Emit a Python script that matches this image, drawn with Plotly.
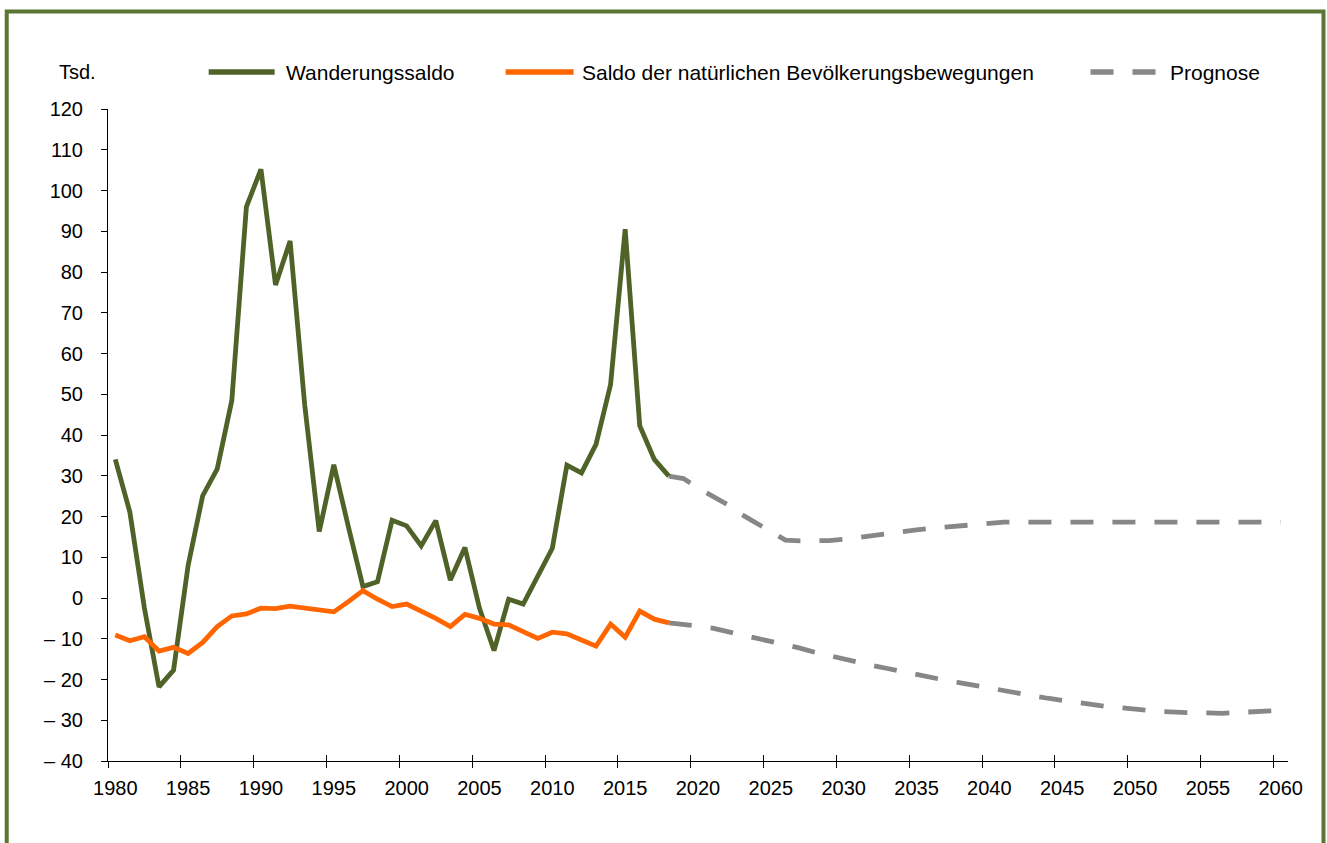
import plotly.graph_objects as go

# ---------------- data ----------------
years_hist = list(range(1980, 2019))
years_prog = list(range(2018, 2061))
all_years = list(range(1980, 2061))

wanderung = [34.0, 21.1, -2.5, -21.8, -17.7, 8.0, 25.1, 31.7, 48.5, 96.0,
             105.2, 76.8, 87.6, 47.5, 16.3, 32.7, 17.5, 2.8, 4.0, 19.1,
             17.7, 12.8, 19.0, 4.4, 12.4, -2.5, -12.9, -0.3, -1.5, 5.6,
             12.2, 32.6, 30.7, 37.7, 52.4, 90.5, 42.3, 34.0, 29.9]

natuerlich = [-9.1, -10.5, -9.5, -13.0, -12.1, -13.6, -10.9, -7.0, -4.4, -3.9,
              -2.5, -2.6, -2.0, -2.4, -2.8, -3.4, -0.9, 1.8, -0.3, -2.1,
              -1.5, -3.1, -5.0, -7.0, -4.0, -5.0, -6.4, -6.6, -8.4, -9.9,
              -8.4, -8.8, -10.3, -11.8, -6.4, -9.6, -3.2, -5.2, -6.1]

prog_wanderung = [29.9, 29.3, 27.0, 25.0, 23.0, 20.5, 18.3, 16.2, 14.2, 14.0,
                  14.0, 14.1, 14.4, 14.9, 15.3, 15.8, 16.3, 16.7, 17.1, 17.4,
                  17.8, 18.2, 18.5, 18.6, 18.6, 18.6, 18.6, 18.6, 18.6, 18.6,
                  18.6, 18.6, 18.6, 18.6, 18.6, 18.6, 18.6, 18.6, 18.6, 18.6,
                  18.6, 18.6, 18.6]

prog_natuerlich = [-6.1, -6.4, -6.9, -7.4, -8.2, -8.9, -9.8, -10.6, -11.4, -12.3,
                   -13.3, -14.2, -15.1, -15.9, -16.6, -17.3, -18.1, -18.8, -19.5, -20.2,
                   -20.8, -21.5, -22.2, -22.9, -23.5, -24.0, -24.6, -25.2, -25.7, -26.1,
                   -26.6, -27.0, -27.3, -27.6, -27.9, -28.1, -28.2, -28.2, -28.3, -28.1,
                   -27.9, -27.8, -27.6]

y_tickvals = list(range(-40, 121, 10))
y_ticktext = [("\u2013 " + str(-v)) if v < 0 else str(v) for v in y_tickvals]

series_names = ["Wanderungssaldo", "Saldo der natürlichen Bevölkerungsbewegungen", "Prognose"]

# ---------------- style ----------------
GREEN = "#4F6228"
ORANGE = "#FF6600"
GRAY = "#878787"
FRAME = "#5B7532"
FONT = "Liberation Sans, Arial, sans-serif"
DASH = "23px,19px"
LW = 4.8

fig = go.Figure()

fig.add_trace(go.Scatter(x=years_prog, y=prog_wanderung, mode="lines",
                         line=dict(color=GRAY, width=LW, dash=DASH),
                         name=series_names[2], showlegend=False))
fig.add_trace(go.Scatter(x=years_prog, y=prog_natuerlich, mode="lines",
                         line=dict(color=GRAY, width=LW, dash=DASH),
                         name=series_names[2], showlegend=False))
fig.add_trace(go.Scatter(x=years_hist, y=wanderung, mode="lines",
                         line=dict(color=GREEN, width=LW),
                         name=series_names[0], showlegend=False))
fig.add_trace(go.Scatter(x=years_hist, y=natuerlich, mode="lines",
                         line=dict(color=ORANGE, width=LW),
                         name=series_names[1], showlegend=False))
# helper trace for the overlay axis (inside tick marks)
fig.add_trace(go.Scatter(x=all_years, y=[None] * len(all_years), xaxis="x2",
                         mode="lines", showlegend=False, hoverinfo="skip"))

# plot area geometry (pixels)
W, H = 1327, 843
L, R, T, B = 108.3, 1288.5, 109.0, 761.0
pw, ph = R - L, B - T

def px(x):
    return (x - L) / pw

def py(y):
    return (B - y) / ph

axis_common = dict(
    type="category",
    categoryorder="array",
    categoryarray=all_years,
    range=[-0.5, len(all_years) - 0.5],
    tickmode="linear",
    tick0=0,
    dtick=5,
    tickson="boundaries",
    showgrid=False,
    zeroline=False,
    tickangle=0,
)

fig.update_layout(
    width=W, height=H,
    margin=dict(l=L, r=W - R, t=T, b=H - B, pad=0),
    paper_bgcolor="white",
    plot_bgcolor="white",
    font=dict(family=FONT, size=20, color="black"),
    showlegend=False,
    xaxis=dict(
        **axis_common,
        showline=True, linecolor="black", linewidth=1,
        ticks="outside", ticklen=6, tickwidth=1, tickcolor="black",
        tickfont=dict(family=FONT, size=20, color="black"),
        ticklabelstandoff=9,
    ),
    xaxis2=dict(
        **axis_common,
        overlaying="x", anchor="y", side="bottom",
        showline=False, showticklabels=False,
        ticks="inside", ticklen=6, tickwidth=1, tickcolor="black",
    ),
    yaxis=dict(
        range=[-40, 120],
        tickmode="array", tickvals=y_tickvals, ticktext=y_ticktext,
        showgrid=False, zeroline=False,
        showline=True, linecolor="black", linewidth=1,
        ticks="outside", ticklen=6, tickwidth=1, tickcolor="black",
        tickfont=dict(family=FONT, size=20, color="black"),
        ticklabelstandoff=14,
    ),
)

# outer frame (open at the bottom of the page)
fig.add_shape(type="rect", xref="paper", yref="paper",
              x0=px(7), x1=px(1324), y0=py(900), y1=py(11.5),
              line=dict(color=FRAME, width=4), fillcolor="rgba(0,0,0,0)", layer="below")

# legend (drawn manually to match spacing)
ly = py(72)
fig.add_shape(type="line", xref="paper", yref="paper",
              x0=px(209), x1=px(275), y0=ly, y1=ly,
              line=dict(color=GREEN, width=5.5))
fig.add_shape(type="line", xref="paper", yref="paper",
              x0=px(506), x1=px(574), y0=ly, y1=ly,
              line=dict(color=ORANGE, width=5.5))
fig.add_shape(type="line", xref="paper", yref="paper",
              x0=px(1091), x1=px(1156), y0=ly, y1=ly,
              line=dict(color=GRAY, width=5.5, dash=DASH))

legend_font = dict(family=FONT, size=21, color="black")
for xpos, txt in [(284, series_names[0]), (580, series_names[1]), (1168, series_names[2])]:
    fig.add_annotation(xref="paper", yref="paper", x=px(xpos), y=ly,
                       xanchor="left", yanchor="middle", text=txt,
                       showarrow=False, font=legend_font)

fig.add_annotation(xref="paper", yref="paper", x=px(57), y=ly,
                   xanchor="left", yanchor="middle", text="Tsd.",
                   showarrow=False, font=dict(family=FONT, size=20, color="black"))

fig.write_html("out.html",
               config={"displayModeBar": False},
               post_script="document.body.style.margin='0';document.body.style.overflow='hidden';")
